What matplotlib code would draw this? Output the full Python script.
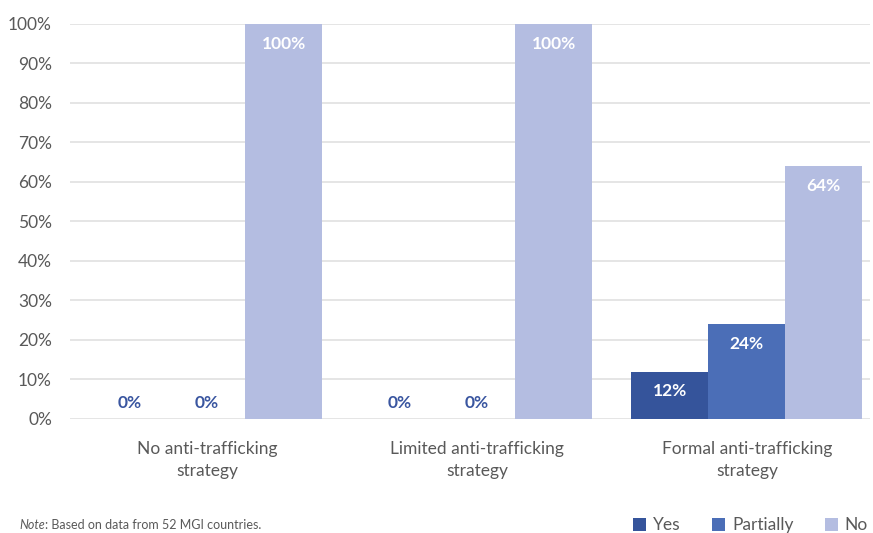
import numpy as np
from matplotlib import pyplot as plt

categories = ['No anti-trafficking\nstrategy', 'Limited anti-trafficking\nstrategy', 'Formal anti-trafficking\nstrategy']
yes = [0, 0, 12]
partially = [0, 0, 24]
no = [100, 100, 64]
series_names = ['Yes', 'Partially', 'No']
colors = ['#35549B', '#4B6EB7', '#B4BDE1']

plt.rcParams['font.family'] = ['Lato', 'DejaVu Sans']

fig = plt.figure(figsize=(8.73, 5.33), dpi=100)
ax = fig.add_axes([0.0802, 0.2139, 0.9164, 0.7411])

x = np.arange(len(categories))
w = 0.285
offsets = [-w, 0, w]
for vals, name, col, off in zip([yes, partially, no], series_names, colors, offsets):
    bars = ax.bar(x + off, vals, width=w, color=col, label=name, zorder=3)
    for b, v in zip(bars, vals):
        cx = b.get_x() + b.get_width() / 2
        if v == 0:
            ax.text(cx, 4, '0%', ha='center', va='center', color='#3A56A0',
                    fontsize=12.5, fontweight='bold', zorder=4)
        else:
            ax.text(cx, v - 5, f'{v}%', ha='center', va='center', color='white',
                    fontsize=12.5, fontweight='bold', zorder=4)

ax.set_ylim(0, 100)
ax.set_xlim(-0.507, 2.456)
ax.set_yticks(range(0, 101, 10))
ax.set_yticklabels([f'{t}%' for t in range(0, 101, 10)])
ax.set_xticks(x)
ax.set_xticklabels(categories, linespacing=1.45)
ax.tick_params(axis='both', length=0, labelsize=12.5, labelcolor='#595959')
ax.tick_params(axis='x', pad=16)
ax.tick_params(axis='y', pad=13)
ax.yaxis.grid(True, color='#E3E3E3', linewidth=1.3, zorder=0)
for s in ax.spines.values():
    s.set_visible(False)

# note at the bottom, "Note" in italics
note = fig.text(0.022, 0.003, 'Note', style='italic', fontsize=9, color='#595959', va='bottom')
ax.annotate(': Based on data from 52 MGI countries.', xy=(1, 0), xycoords=note,
            fontsize=9, color='#595959', va='bottom', ha='left')

leg = fig.legend(loc='lower right', bbox_to_anchor=(1.012, -0.03), ncol=3, frameon=False,
                 fontsize=12.5, handlelength=0.75, handleheight=0.75, handletextpad=0.4,
                 columnspacing=1.8)
for t in leg.get_texts():
    t.set_color('#595959')

plt.savefig('out.png', dpi=100)
